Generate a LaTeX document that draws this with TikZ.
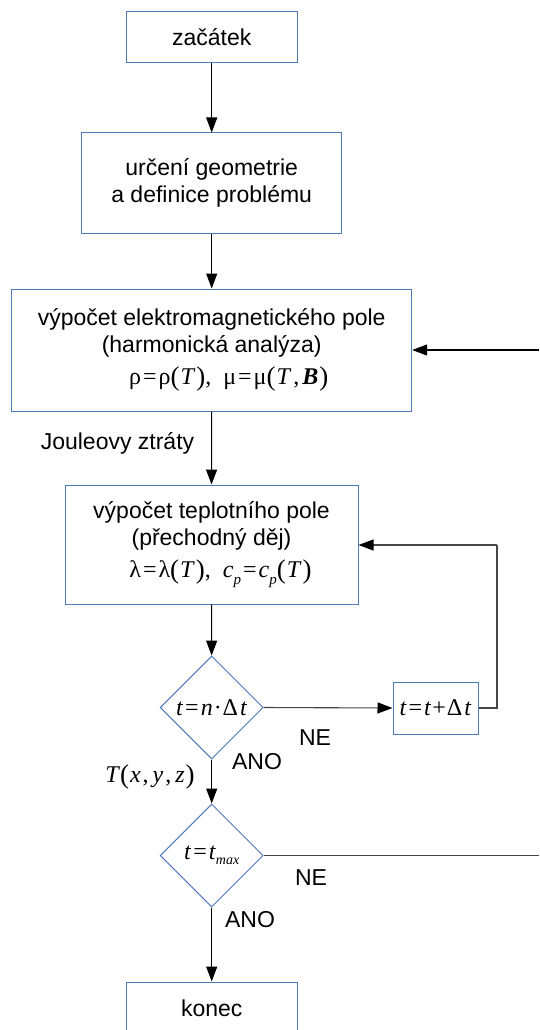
\documentclass[tikz,border=0pt]{standalone}
\usepackage{fontspec}
\setmainfont{Liberation Sans}
\newfontfamily\serifm{Liberation Serif}
\usetikzlibrary{shapes.geometric,arrows.meta}

\definecolor{boxblue}{RGB}{79,122,185}
\definecolor{loopgray}{RGB}{70,70,70}

% italic and bold-italic symbols set in the serif face
\newcommand{\vi}[1]{\textit{#1}}
\newcommand{\vb}[1]{\textbf{\textit{#1}}}
\newcommand{\eqs}{\kern2pt=\kern2pt}
% slightly enlarged parentheses for formulas
\newcommand{\lpar}{\raisebox{-1.5pt}{\fontsize{27}{27}\selectfont(}\kern1pt}
\newcommand{\rpar}{\kern1pt\raisebox{-1.5pt}{\fontsize{27}{27}\selectfont)}}
\newcommand{\mathsz}{\fontsize{24}{27}\selectfont\serifm}
% italic subscript
\newcommand{\isub}[1]{\raisebox{-7pt}{\fontsize{15}{15}\selectfont\vi{#1}}}

\tikzset{
  stepbox/.style={draw=boxblue, line width=1pt, fill=white, inner sep=2pt,
    align=center, font=\fontsize{23}{27}\selectfont},
  decision/.style={draw=boxblue, line width=1pt, diamond, inner sep=0pt,
    minimum width=103pt, minimum height=103pt, aspect=1,
    font=\mathsz},
  txt/.style={inner sep=0pt, font=\fontsize{23}{27}\selectfont},
  flow/.style={draw=black, line width=1.1pt,
    -{Triangle[length=15pt,width=11pt,color=black,fill=black]}},
  loopline/.style={draw=loopgray, line width=1.3pt},
}

\begin{document}
\begin{tikzpicture}[x=1pt,y=-1pt]
  \useasboundingbox (0,0) rectangle (539,1030);
  \clip (0,0) rectangle (539,1030);

  % process boxes
  \node[stepbox, minimum width=171pt, minimum height=51pt] (start) at (211.7,37.5) {začátek};
  \node[stepbox, minimum width=260pt, minimum height=100pt] (geom) at (211.7,183)
    {určení geometrie\\a definice problému};
  \node[stepbox, minimum width=400pt, minimum height=122pt] (em) at (211.7,350)
    {výpočet elektromagnetického pole\\(harmonická analýza)\\[5pt]
     \hspace*{34pt}{\mathsz ρ\eqs ρ\lpar\vi{T}\rpar,\ \ μ\eqs μ\lpar\vi{T}\kern2pt,\kern3pt\vb{B}\rpar}};
  \node[stepbox, minimum width=293pt, minimum height=119pt] (heat) at (211.5,544.5)
    {výpočet teplotního pole\\(přechodný děj)\\[5pt]
     \hspace*{18pt}{\mathsz λ\eqs λ\lpar\vi{T}\rpar,\ \ \vi{c}\isub{p}\eqs\vi{c}\isub{p}\lpar\vi{T}\rpar}};

  % time-step test and increment
  \node[decision] (dec1) at (211.7,707.5) {\vi{t}\eqs\vi{n}\kern1pt·\kern1ptΔ\kern2pt\vi{t}};
  \node[stepbox, minimum width=85pt, minimum height=52pt, font=\mathsz]
    (incr) at (435.5,708) {\vi{t}\eqs\vi{t}\kern1pt+\kern1ptΔ\kern2pt\vi{t}};

  % end-time test and end
  \node[decision] (dec2) at (211.7,855.5)
    {\vi{t}\eqs\vi{t}\raisebox{-5pt}{\fontsize{14}{14}\selectfont\vi{max}}};
  \node[stepbox, minimum width=171pt, minimum height=52pt] (stop) at (211.7,1008) {konec};

  % labels
  \node[txt] (joule) at (117.5,443) {Jouleovy ztráty};
  \node[txt] (ne1) at (315,738) {NE};
  \node[txt] (ano1) at (257,762) {ANO};
  \node[txt, font=\mathsz] (txyz) at (150,777)
    {\vi{T}\lpar\vi{x}\kern2pt,\kern4pt\vi{y}\kern2pt,\kern4pt\vi{z}\rpar};
  \node[txt] (ne2) at (311,878) {NE};
  \node[txt] (ano2) at (250,920) {ANO};

  % free ends at the right edge
  \coordinate (emin) at (539,350);
  \coordinate (tmaxout) at (539,855.5);
  \coordinate (loopbot) at (497,708);
  \coordinate (looptop) at (497,545);

  % main flow
  \draw[flow] (start) -- (geom);
  \draw[flow] (geom) -- (em);
  \draw[flow] (em) -- (heat);
  \draw[flow] (heat) -- (dec1);
  \draw[flow] (dec1) -- (dec2);
  \draw[flow] (dec2) -- (stop);

  % loops
  \draw[flow, draw=loopgray] (dec1.east) -- (incr.west);
  \draw[loopline] (incr.east) -- (loopbot) -- (looptop);
  \draw[flow, draw=loopgray] (looptop) -- (heat.east |- looptop);
  \draw[flow] (emin) -- (em.east |- emin);
  \draw[loopline] (dec2.east) -- (tmaxout);
\end{tikzpicture}
\end{document}
